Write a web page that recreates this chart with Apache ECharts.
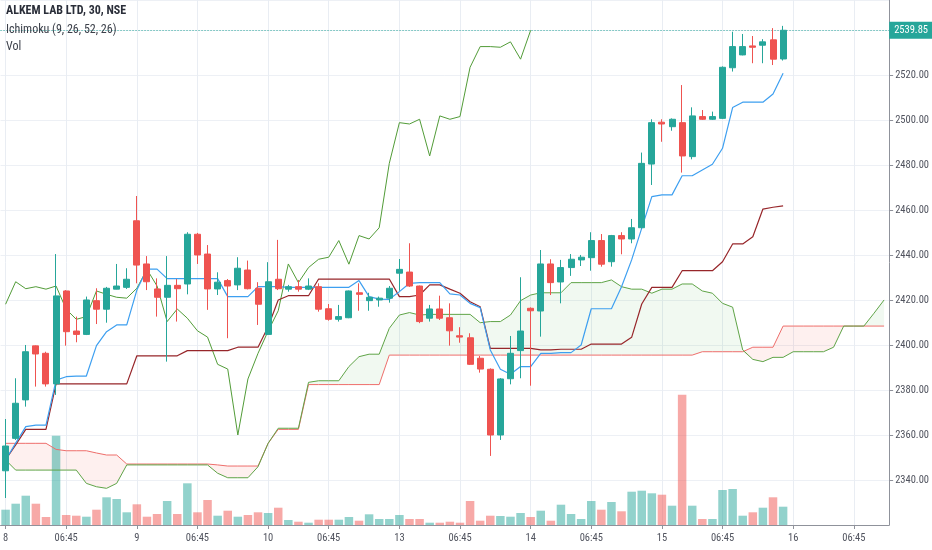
<!DOCTYPE html>
<html><head><meta charset="utf-8">
<script src="https://cdn.jsdelivr.net/npm/echarts@6/dist/echarts.min.js"></script>
<style>html,body{margin:0;padding:0;background:#fff}#c{width:932px;height:550px}</style>
</head><body><div id="c"></div>
<script>
// ---- data (ALKEM LAB LTD, 30 min, NSE) ----
const dayLabels = ['8', '9', '10', '13', '14', '15', '16'];
const midDayLabel = '06:45';
const slotTimes = ['03:45','04:15','04:45','05:15','05:45','06:15','06:45','07:15','07:45','08:15','08:45','09:15','09:45'];
const futureSlots = 10;

const opens = [2344.1,2358.5,2375.6,2399.6,2396.3,2382.7,2424.0,2406.2,2404.7,2419.7,
2415.9,2424.8,2425.6,2455.2,2436.0,2424.9,2421.2,2426.5,2427.1,2449.2,
2440.4,2424.9,2428.6,2426.7,2433.3,2425.2,2404.7,2429.2,2424.8,2425.9,
2424.8,2425.9,2416.1,2411.4,2412.1,2423.2,2419.7,2420.0,2420.8,2431.9,
2432.4,2426.2,2411.9,2416.0,2412.1,2404.1,2403.2,2394.1,2389.2,2360.0,
2385.0,2397.5,2416.3,2415.1,2436.0,2428.0,2434.4,2437.8,2438.8,2446.4,
2437.0,2448.6,2447.1,2452.1,2480.4,2499.0,2497.0,2498.8,2483.7,2501.5,
2500.3,2500.7,2523.2,2528.9,2532.9,2533.2,2535.6,2527.1];
const closes = [2355.1,2374.1,2397.0,2396.0,2382.7,2421.8,2405.9,2404.7,2420.0,2415.9,
2425.2,2426.2,2429.2,2435.5,2428.1,2421.2,2426.5,2425.0,2449.2,2440.0,
2424.9,2427.9,2426.2,2434.1,2425.0,2418.1,2428.1,2425.0,2425.9,2424.8,
2426.2,2415.9,2411.4,2412.6,2424.0,2422.5,2421.2,2420.8,2425.2,2433.6,
2426.2,2410.4,2416.0,2411.9,2406.3,2403.5,2391.4,2389.3,2360.0,2384.9,
2396.3,2406.2,2415.2,2436.0,2427.7,2434.4,2438.1,2439.0,2446.4,2435.9,
2448.6,2447.1,2452.1,2480.7,2498.8,2498.2,2500.3,2484.0,2501.8,2500.3,
2501.5,2523.4,2532.6,2532.6,2532.3,2534.7,2527.0,2539.85];
const lows = [2332.0,2357.8,2372.6,2381.5,2381.5,2377.8,2399.7,2401.2,2404.4,2409.3,
2409.9,2424.7,2424.9,2427.4,2424.4,2412.6,2392.6,2410.4,2422.5,2436.0,
2415.6,2422.2,2403.0,2424.4,2424.7,2408.9,2404.4,2424.4,2423.7,2423.7,
2424.4,2414.8,2410.8,2410.4,2411.9,2415.2,2415.2,2417.0,2418.8,2424.1,
2425.8,2409.7,2410.4,2411.1,2399.7,2401.0,2391.1,2387.7,2350.7,2357.8,
2382.5,2385.2,2381.9,2403.7,2422.2,2418.5,2430.7,2435.1,2433.0,2434.8,
2434.8,2440.3,2445.2,2451.8,2471.1,2490.3,2495.2,2476.6,2482.5,2500.0,
2500.0,2500.4,2521.5,2528.7,2525.2,2525.2,2524.4,2526.4];
const highs = [2367.1,2385.2,2400.0,2399.8,2397.0,2440.4,2424.4,2412.6,2421.5,2425.2,
2425.8,2436.0,2434.1,2466.2,2439.5,2429.6,2439.5,2429.3,2450.1,2449.8,
2444.4,2432.3,2429.3,2439.0,2437.5,2427.9,2436.8,2446.7,2426.7,2428.9,
2429.6,2427.4,2418.2,2417.8,2424.2,2427.4,2423.2,2421.5,2426.2,2438.2,
2445.2,2426.4,2417.8,2421.9,2418.5,2407.9,2405.2,2395.1,2389.6,2385.3,
2404.0,2430.1,2416.7,2442.2,2438.1,2437.8,2440.4,2440.0,2450.1,2449.3,
2448.9,2450.1,2456.0,2485.5,2500.3,2500.3,2500.7,2515.5,2505.6,2504.4,
2503.7,2523.8,2539.2,2538.2,2537.3,2535.9,2540.8,2541.8];
// volume, thousands of shares
const volumes = [15.3,21.3,29.3,21.3,8,89.3,10,9.3,8.3,15.3,
27.7,26,12.7,20.7,8.3,11,24,11,41.7,12.7,
25,9.3,14.3,8.3,10,12.7,12,17.3,5,3.3,
2.3,5.3,5.3,5.3,8,4.3,10.7,6,6,10,
6,6,2.3,2.3,3.3,2.3,24,4.3,9.3,9,
8.3,12,8,14.3,4.3,20.3,11,6,24,15.3,
23,13.7,33.3,34.3,31.7,30.3,19.3,130.3,19.3,6,
6,35,36,9.3,12.7,17.3,27.7,18.3];
// Ichimoku (9, 26, 52, 26)
const tenkan = [2348.9,2356.4,2363.7,2364.4,2364.4,2384.4,2385.9,2386.2,2386.2,2399.7,
2405.9,2408.9,2408.9,2424.4,2433.7,2433.7,2429.5,2429.5,2429.5,2429.5,
2429.5,2429.5,2421.5,2421.5,2421.5,2425.9,2425.9,2425.9,2425.6,2425.6,
2425.6,2425.6,2425.6,2425.6,2425.6,2428.6,2421.5,2420.4,2420.3,2423.7,
2427.4,2427.7,2427.7,2427.7,2422.7,2422.2,2418.5,2416.6,2397.8,2389.2,
2387.0,2390.4,2390.4,2396.3,2396.3,2396.6,2396.6,2400.0,2416.1,2416.1,
2416.1,2425.9,2437.8,2451.9,2465.9,2466.7,2466.7,2475.2,2475.2,2477.8,
2480.3,2487.4,2505.5,2507.9,2507.9,2507.9,2511.5,2520.7];
const kijun = [2349.0,2355.6,2362.5,2362.5,2362.5,2382.7,2382.7,2382.7,2382.7,2382.7,
2382.7,2382.7,2382.7,2395.2,2395.2,2395.2,2395.2,2395.2,2397.5,2397.5,
2397.5,2397.5,2397.5,2399.0,2399.0,2399.0,2408.1,2420.0,2421.9,2421.9,
2421.9,2429.3,2429.3,2429.3,2429.3,2429.3,2429.3,2429.3,2429.3,2421.5,
2421.5,2422.2,2426.7,2426.7,2424.8,2423.0,2419.2,2417.0,2398.5,2398.5,
2398.5,2398.5,2398.5,2397.8,2397.8,2398.1,2398.1,2398.1,2400.4,2400.4,
2400.4,2400.4,2403.4,2418.2,2425.6,2425.6,2425.6,2433.0,2433.0,2433.0,
2433.0,2437.0,2444.9,2444.9,2448.1,2460.4,2461.2,2461.8];
const spanA = [2348.9,2344.4,2344.4,2344.4,2344.4,2344.4,2344.4,2344.4,2338.5,2337.0,
2336.3,2338.5,2346.7,2346.7,2346.7,2346.7,2346.7,2346.7,2346.7,2346.7,
2346.7,2343.0,2341.0,2341.0,2341.0,2345.9,2356.3,2363.0,2363.0,2363.0,
2383.4,2384.1,2384.1,2384.1,2390.4,2394.8,2395.9,2395.9,2407.4,2413.3,
2414.4,2413.3,2413.6,2413.6,2413.6,2413.6,2413.6,2409.9,2410.4,2410.4,
2413.3,2419.7,2422.2,2423.2,2423.2,2423.2,2427.7,2427.7,2427.7,2427.7,
2428.9,2425.9,2424.8,2424.8,2423.0,2424.8,2424.8,2427.1,2427.1,2424.0,
2423.0,2418.5,2416.8,2397.8,2393.6,2392.6,2394.5,2394.5,2397.0,2397.0,
2397.0,2397.0,2399.0,2408.4,2408.4,2408.4,2414.1,2420.0];
const spanB = [2356.3,2356.3,2356.3,2356.3,2356.3,2353.6,2353.0,2353.0,2353.0,2352.0,
2351.1,2351.1,2347.1,2347.1,2347.1,2347.1,2347.1,2347.1,2347.1,2347.1,
2347.1,2346.7,2346.2,2346.2,2346.2,2346.2,2356.3,2362.5,2362.5,2362.5,
2382.4,2382.4,2382.4,2382.4,2382.4,2382.4,2382.4,2382.4,2395.5,2395.5,
2395.5,2395.5,2395.5,2395.5,2395.5,2395.5,2395.5,2395.5,2395.5,2395.5,
2395.5,2395.5,2395.5,2395.5,2395.5,2395.5,2395.5,2395.5,2395.5,2395.5,
2395.5,2395.5,2395.5,2395.5,2395.5,2395.5,2395.5,2395.5,2395.5,2397.0,
2397.0,2397.0,2397.0,2397.0,2399.0,2399.0,2399.0,2408.4,2408.4,2408.4,
2408.4,2408.4,2408.4,2408.4,2408.4,2408.4,2408.4,2408.4];
const chikouShift = 25;
const priceMin = 2320, priceMax = 2553.3, priceStep = 20;
const volumeAxisMax = 525;

// ---- build ----
const barsPerDay = slotTimes.length;
const nSlots = closes.length + futureSlots;
const categories = [], labels = [];
for (let i = 0; i < nSlots; i++) {
  const d = Math.floor(i / barsPerDay), s = i % barsPerDay;
  categories.push(dayLabels[d] + ' ' + slotTimes[s]);
  labels.push(s === 0 ? dayLabels[d] : (slotTimes[s] === midDayLabel ? midDayLabel : ''));
}
const labeledIdx = labels.map((l, i) => l ? i : -1).filter(i => i >= 0);
const candles = opens.map((o, i) => [o, closes[i], lows[i], highs[i]]);
const volData = volumes.map((v, i) => ({
  value: v,
  itemStyle: { color: closes[i] >= opens[i] ? 'rgba(38,166,154,0.5)' : 'rgba(239,83,80,0.5)' }
}));
const chikou = closes.map(() => null);
for (let i = chikouShift; i < closes.length; i++) chikou[i - chikouShift] = closes[i];
const cloudLow = spanA.map((a, i) => Math.min(a, spanB[i]));
const greenDiff = spanA.map((a, i) => Math.max(a - spanB[i], 0));
const redDiff = spanA.map((a, i) => Math.max(spanB[i] - a, 0));
const lastClose = closes[closes.length - 1];

const NARROW = '"Liberation Sans Narrow", "Roboto Condensed", "Liberation Sans", sans-serif';
const lineBase = { type: 'line', symbol: 'none', showSymbol: false, silent: true, animation: false };

const chart = echarts.init(document.getElementById('c'));
chart.setOption({
  animation: false,
  backgroundColor: '#ffffff',
  grid: { left: 0, right: 42, top: 0, bottom: 25, containLabel: false },
  xAxis: {
    type: 'category', data: categories, boundaryGap: true,
    axisLine: { show: true, lineStyle: { color: '#8f929b', width: 1 } },
    axisTick: { show: true, alignWithLabel: true, length: 4, interval: (i) => labels[i] !== '', lineStyle: { color: '#8f929b' } },
    axisLabel: { interval: 0, formatter: (v, i) => labels[i], color: '#50535e', fontSize: 10.5, fontFamily: NARROW, margin: 8 },
    splitLine: { show: false }
  },
  yAxis: [{
    type: 'value', position: 'right', min: priceMin, max: priceMax, interval: priceStep, scale: true,
    axisLine: { show: true, lineStyle: { color: '#8f929b', width: 1 } },
    axisTick: { show: true, length: 4, lineStyle: { color: '#8f929b' } },
    axisLabel: { showMinLabel: false, showMaxLabel: false, color: '#50535e', fontSize: 10.5, fontFamily: NARROW, margin: 6,
      formatter: v => v.toFixed(2) },
    splitLine: { show: true, lineStyle: { color: '#edf0f5', width: 1 } }
  }, {
    type: 'value', min: 0, max: volumeAxisMax, show: false, splitLine: { show: false }
  }],
  graphic: [
    { type: 'text', left: 6, top: 5, z: 100, style: { text: 'ALKEM LAB LTD, 30, NSE', font: 'bold 12px ' + NARROW, fill: '#2a2e39' } },
    { type: 'text', left: 6, top: 24, z: 100, style: { text: 'Ichimoku (9, 26, 52, 26)', font: '12px ' + NARROW, fill: '#3c404a' } },
    { type: 'text', left: 6, top: 41, z: 100, style: { text: 'Vol', font: '12px ' + NARROW, fill: '#3c404a' } }
  ],
  series: [
    Object.assign({}, lineBase, { name: 'cloudBaseG', data: cloudLow, stack: 'g', lineStyle: { opacity: 0 }, z: 1 }),
    Object.assign({}, lineBase, { name: 'cloudG', data: greenDiff, stack: 'g', lineStyle: { opacity: 0 }, areaStyle: { color: 'rgba(76,175,80,0.11)' }, z: 1 }),
    Object.assign({}, lineBase, { name: 'cloudBaseR', data: cloudLow, stack: 'r', lineStyle: { opacity: 0 }, z: 1 }),
    Object.assign({}, lineBase, { name: 'cloudR', data: redDiff, stack: 'r', lineStyle: { opacity: 0 }, areaStyle: { color: 'rgba(244,67,54,0.11)' }, z: 1 }),
    {
      name: 'Vol', type: 'bar', yAxisIndex: 1, data: volData, barWidth: 8.5, z: 2, silent: true, animation: false,
      markLine: {
        silent: true, symbol: 'none', z: 0, animation: false,
        label: { show: false },
        lineStyle: { color: '#e9edf3', type: 'solid', width: 1 },
        data: labeledIdx.map(i => ({ xAxis: i }))
      }
    },
    Object.assign({}, lineBase, { name: 'Lead 2', data: spanB, lineStyle: { color: '#ee6e6b', width: 1 }, z: 3 }),
    Object.assign({}, lineBase, { name: 'Lead 1', data: spanA, lineStyle: { color: '#5fa447', width: 1 }, z: 3 }),
    Object.assign({}, lineBase, { name: 'Lagging', data: chikou, lineStyle: { color: '#529c38', width: 1 }, z: 3 }),
    Object.assign({}, lineBase, { name: 'Base', data: kijun, lineStyle: { color: '#97262a', width: 1.2 }, z: 3 }),
    Object.assign({}, lineBase, { name: 'Conversion', data: tenkan, lineStyle: { color: '#3d9ff0', width: 1.2 }, z: 3 }),
    {
      name: 'ALKEM', type: 'candlestick', data: candles, barWidth: 6.5, z: 5, silent: true, animation: false,
      itemStyle: { color: '#26a69a', color0: '#ef5350', borderColor: '#26a69a', borderColor0: '#ef5350', borderWidth: 1 },
      markLine: {
        silent: true, symbol: 'none', animation: false,
        lineStyle: { color: '#26a69a', type: [1, 2], width: 1 },
        label: { show: true, position: 'end', distance: 0, formatter: lastClose.toFixed(2), color: '#ffffff',
          backgroundColor: '#26a69a', padding: [3, 4, 3, 5], fontSize: 10.5, fontFamily: NARROW },
        data: [{ yAxis: lastClose }]
      }
    }
  ]
});
</script></body></html>
